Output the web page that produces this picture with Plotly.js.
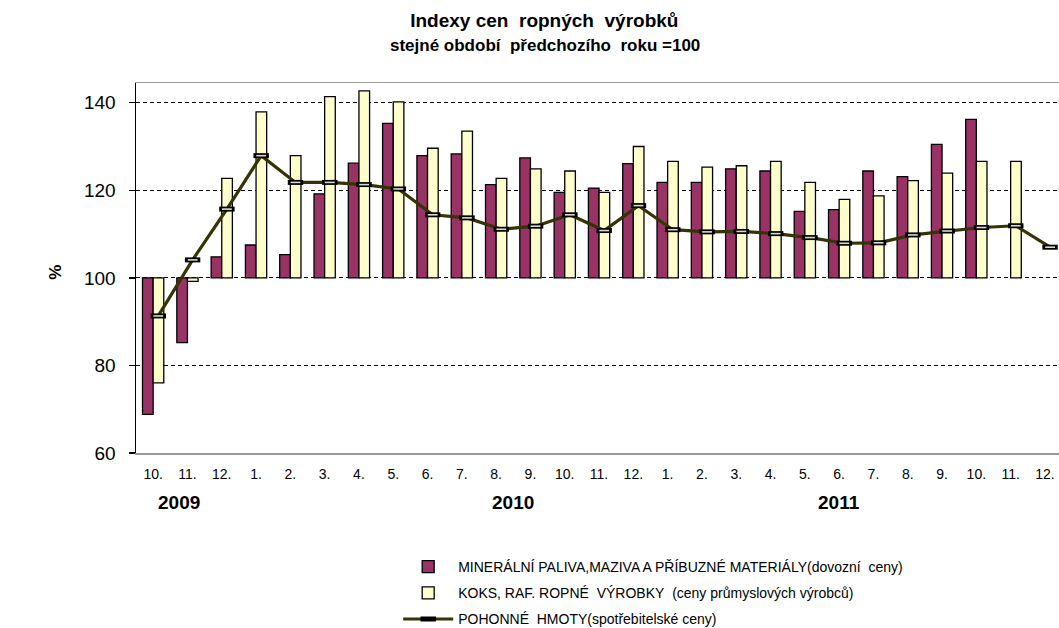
<!DOCTYPE html>
<html>
<head>
<meta charset="utf-8">
<script src="https://cdn.plot.ly/plotly-3.0.1.min.js"></script>
<style>html,body{margin:0;padding:0;background:#fff;}#chart{width:1059px;height:628px;}</style>
</head>
<body>
<div id="chart"></div>
<script>
// Month labels and years (Oct 2009 – Dec 2011)
const months = ["10.","11.","12.","1.","2.","3.","4.","5.","6.","7.","8.","9.","10.","11.","12.",
                "1.","2.","3.","4.","5.","6.","7.","8.","9.","10.","11.","12."];
const years = [2009,2009,2009,2010,2010,2010,2010,2010,2010,2010,2010,2010,2010,2010,2010,
               2011,2011,2011,2011,2011,2011,2011,2011,2011,2011,2011,2011];
const yearLabels = ["2009","2010","2011"];
const yearLabelPos = [0.74, 10.5, 20.0];

// MINERÁLNÍ PALIVA, MAZIVA A PŘÍBUZNÉ MATERIÁLY (dovozní ceny)
const mineralni = [68.8,85.2,104.8,107.5,105.3,119.2,126.2,135.3,127.9,128.3,121.3,127.4,119.5,120.5,126.1,
                   121.8,121.8,124.9,124.4,115.2,115.6,124.4,123.1,130.5,136.2,null,null];
// KOKS, RAF. ROPNÉ VÝROBKY (ceny průmyslových výrobců)
const koks = [76.0,99.2,122.7,137.9,127.9,141.4,142.7,140.2,129.6,133.5,122.7,124.9,124.4,119.5,130.0,
              126.6,125.3,125.6,126.6,121.8,117.9,118.7,122.2,123.9,126.6,126.6,null];
// POHONNÉ HMOTY (spotřebitelské ceny)
const pohonne = [91.3,104.1,115.7,127.9,121.8,121.8,121.3,120.3,114.4,113.7,111.1,111.8,114.4,110.8,116.5,
                 111.0,110.5,110.6,110.1,109.2,107.9,108.0,109.8,110.7,111.5,111.9,107.0];

const names = ["MINERÁLNÍ PALIVA,MAZIVA A PŘÍBUZNÉ MATERIÁLY(dovozní\u00a0 ceny)",
               "KOKS, RAF. ROPNÉ\u00a0 VÝROBKY\u00a0 (ceny průmyslových výrobců)",
               "POHONNÉ\u00a0 HMOTY(spotřebitelské ceny)"];
const titleText = "Indexy cen\u00a0 ropných\u00a0 výrobků";
const subtitleText = "stejné období\u00a0 předchozího\u00a0 roku =100";

const BASE = 100;
const cats = months.map((m, i) => m + years[i]);
const FONT = "Liberation Sans, Arial, sans-serif";

const traces = [
  {type:"bar", name:names[0], x:cats, y:mineralni.map(v => v === null ? null : v - BASE), base:BASE,
   marker:{color:"#993366", line:{color:"#000", width:1.3}}, legendgroup:"a"},
  {type:"bar", name:names[1], x:cats, y:koks.map(v => v === null ? null : v - BASE), base:BASE,
   marker:{color:"#FFFFCC", line:{color:"#000", width:1.3}}, legendgroup:"b"},
  {type:"scatter", mode:"lines+markers", name:names[2], x:cats, y:pohonne, xaxis:"x2",
   line:{color:"#363305", width:3.2},
   marker:{symbol:"line-ew", size:11, line:{color:"#000", width:5}}, legendgroup:"c"},
  {type:"scatter", mode:"markers", x:cats, y:pohonne, xaxis:"x2", showlegend:false, hoverinfo:"skip",
   marker:{symbol:"line-ew", size:7, line:{color:"#d9d9cf", width:1.6}}, legendgroup:"c"}
];

const xr = [-0.5, 26.41];
const shift = 0.15;

const layout = {
  width:1059, height:628,
  margin:{l:136, r:0, t:83, b:175, autoexpand:false},
  paper_bgcolor:"#fff", plot_bgcolor:"#fff",
  font:{family:FONT, color:"#000"},
  barmode:"group", bargap:0.38, bargroupgap:0,
  showlegend:true,
  title:{
    text:"<b>" + titleText + "</b>",
    font:{family:FONT, size:19, color:"#000"},
    x:0.514, xref:"container", xanchor:"center",
    y:1-20/628, yref:"container", yanchor:"middle", automargin:false
  },
  xaxis:{
    type:"category", categoryorder:"array", categoryarray:cats,
    range:xr, tickvals:cats, ticktext:months, ticks:"", ticklabelstandoff:8, tickangle:0,
    tickfont:{family:FONT, size:14, color:"#000"},
    showline:true, mirror:true, linecolor:"#9a9a9a", linewidth:1.5,
    showgrid:false, zeroline:false, fixedrange:true, automargin:false
  },
  xaxis2:{
    type:"category", categoryorder:"array", categoryarray:cats,
    overlaying:"x", range:[xr[0]-shift, xr[1]-shift], visible:false, fixedrange:true
  },
  xaxis3:{
    type:"linear", overlaying:"x", anchor:"free", position:(BASE-60)/(144.5-60),
    range:xr, tick0:-0.5, dtick:1, ticks:"outside", ticklen:4, tickwidth:1.3, tickcolor:"#000",
    showticklabels:false, showline:true, linecolor:"#000", linewidth:1.5,
    showgrid:false, zeroline:false, fixedrange:true, automargin:false
  },
  yaxis:{
    range:[60, 144.5], tickvals:[60,80,100,120,140], ticks:"outside", ticklen:6, tickcolor:"#000", tickwidth:1.3,
    showline:true, linecolor:"#000", linewidth:1.5,
    showgrid:true, gridcolor:"#000", gridwidth:1, griddash:"4px,3px",
    zeroline:false, ticklabelstandoff:9, automargin:false,
    tickfont:{family:FONT, size:19, color:"#000"}, fixedrange:true
  },
  legend:{
    x:0.376, xref:"container", xanchor:"left",
    y:1-551/628, yref:"container", yanchor:"top",
    orientation:"v", traceorder:"grouped", tracegroupgap:5, itemwidth:50,
    bgcolor:"rgba(0,0,0,0)", font:{family:FONT, size:14, color:"#000"}
  },
  annotations: yearLabels.map((t, i) => ({
    text:"<b>" + t + "</b>", x:yearLabelPos[i], xref:"x", y:-0.135, yref:"paper",
    showarrow:false, xanchor:"center", yanchor:"middle",
    font:{family:FONT, size:19, color:"#000"}
  })).concat([{
    text:"<b>%</b>", x:-0.088, xref:"paper", y:(453-272)/370, yref:"paper", textangle:-90,
    showarrow:false, xanchor:"center", yanchor:"middle",
    font:{family:FONT, size:17, color:"#000"}
  }, {
    text:"<b>" + subtitleText + "</b>", x:(545-136)/923, xref:"paper", y:(453-46)/370, yref:"paper",
    showarrow:false, xanchor:"center", yanchor:"middle",
    font:{family:FONT, size:17, color:"#000"}
  }])
};

Plotly.newPlot("chart", traces, layout, {displayModeBar:false, staticPlot:true});
</script>
</body>
</html>
